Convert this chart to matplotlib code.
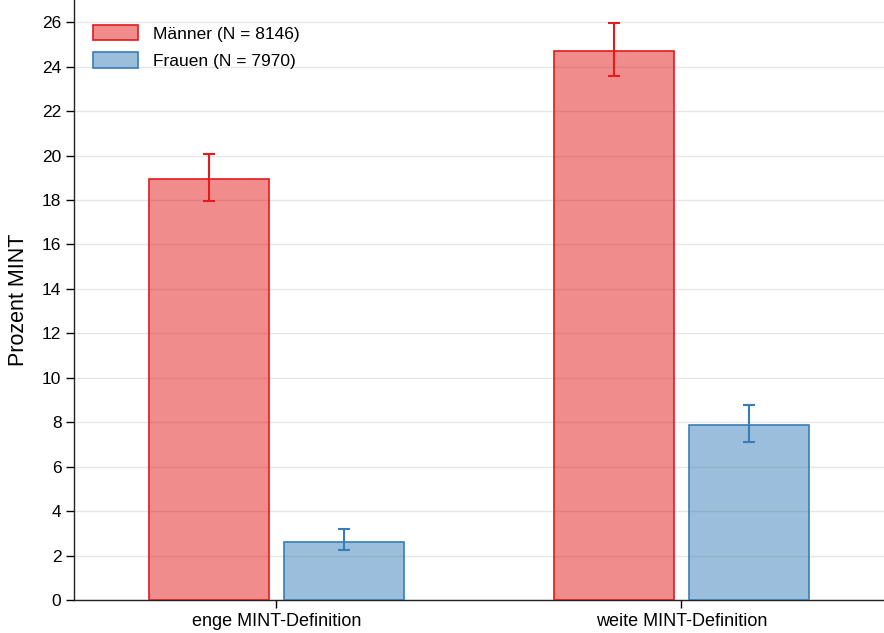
import matplotlib
matplotlib.use("Agg")
import matplotlib.pyplot as plt
import numpy as np
from matplotlib.patches import Patch

categories = ["enge MINT-Definition", "weite MINT-Definition"]
groups = ["Männer (N = 8146)", "Frauen (N = 7970)"]
maenner = [18.94, 24.70]
maenner_lo = [17.95, 23.57]
maenner_hi = [20.06, 25.96]
frauen = [2.63, 7.87]
frauen_lo = [2.25, 7.11]
frauen_hi = [3.19, 8.77]
yticks = list(range(0, 27, 2))

plt.rcParams['font.family'] = ['Liberation Sans', 'DejaVu Sans']

fig = plt.figure(figsize=(8.84, 6.33), dpi=100)
ax = fig.add_axes([0.0837, 0.052, 0.9163, 0.948])

x = np.arange(len(categories))
w = 0.296
off = 0.1667
series = [
    (maenner, maenner_lo, maenner_hi, "#e41a1c", -off, groups[0]),
    (frauen, frauen_lo, frauen_hi, "#377eb8", off, groups[1]),
]
for vals, lo, hi, col, o, lab in series:
    ax.bar(x + o, vals, width=w, color=col, alpha=0.5, edgecolor="none", zorder=2, label=lab)
    ax.bar(x + o, vals, width=w, facecolor="none", edgecolor=col, linewidth=1.2, zorder=3)
    vals = np.array(vals)
    yerr = [vals - np.array(lo), np.array(hi) - vals]
    ax.errorbar(x + o, vals, yerr=yerr, fmt="none", ecolor=col, elinewidth=1.5,
                capsize=4.5, capthick=1.5, zorder=4)

ax.set_xlim(-0.5, 1.5)
ax.set_ylim(0, 27)
ax.set_yticks(yticks)
ax.set_xticks(x)
ax.set_xticklabels(categories, fontsize=13)
ax.tick_params(axis="y", labelsize=12.5, length=6, width=1, direction="out", pad=3)
ax.tick_params(axis="x", length=6, width=1, direction="out", pad=3)
ax.set_ylabel("Prozent MINT", fontsize=15.5)
ax.yaxis.set_label_coords(-0.056, 0.5)
ax.grid(axis="y", color="#e6e6e6", linewidth=1, zorder=0)
ax.set_axisbelow(True)
for s in ["top", "right"]:
    ax.spines[s].set_visible(False)
for s in ["left", "bottom"]:
    ax.spines[s].set_color("#222222")
    ax.spines[s].set_linewidth(1)

handles = [Patch(facecolor="#f18c8d", edgecolor="#e41a1c", linewidth=1.2),
           Patch(facecolor="#9bbedb", edgecolor="#377eb8", linewidth=1.2)]
ax.legend(handles, groups, loc="upper left", bbox_to_anchor=(0.015, 0.97), frameon=False,
          fontsize=12.5, handlelength=2.6, handleheight=1.0, handletextpad=0.86,
          labelspacing=0.6, borderaxespad=0)

fig.savefig("out.png", dpi=100)
